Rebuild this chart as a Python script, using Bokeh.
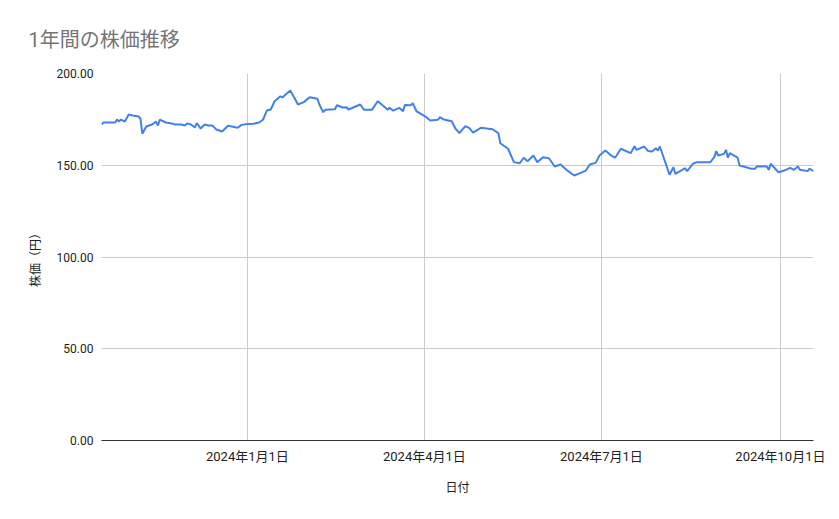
import pandas as pd
from bokeh.plotting import figure
from bokeh.models import Range1d, FixedTicker, PrintfTickFormatter, ColumnDataSource
from bokeh.embed import file_html
from bokeh.resources import INLINE

# ---- data ----
dates = [
    "2023-10-18", "2023-10-19", "2023-10-23", "2023-10-25", "2023-10-26", "2023-10-27",
    "2023-10-28", "2023-10-30", "2023-11-01", "2023-11-03", "2023-11-06", "2023-11-07",
    "2023-11-08", "2023-11-10", "2023-11-13", "2023-11-15", "2023-11-16", "2023-11-17",
    "2023-11-20", "2023-11-23", "2023-11-25", "2023-11-28", "2023-11-30", "2023-12-01",
    "2023-12-03", "2023-12-05", "2023-12-06", "2023-12-08", "2023-12-10", "2023-12-12",
    "2023-12-14", "2023-12-16", "2023-12-19", "2023-12-22", "2023-12-24", "2023-12-27",
    "2023-12-29", "2024-01-01", "2024-01-04", "2024-01-07", "2024-01-09", "2024-01-11",
    "2024-01-13", "2024-01-15", "2024-01-18", "2024-01-19", "2024-01-23", "2024-01-25",
    "2024-01-27", "2024-01-30", "2024-02-02", "2024-02-06", "2024-02-07", "2024-02-09",
    "2024-02-10", "2024-02-15", "2024-02-16", "2024-02-19", "2024-02-21", "2024-02-22",
    "2024-02-28", "2024-03-01", "2024-03-05", "2024-03-08", "2024-03-12", "2024-03-13",
    "2024-03-14", "2024-03-16", "2024-03-19", "2024-03-21", "2024-03-22", "2024-03-25",
    "2024-03-26", "2024-03-28", "2024-04-02", "2024-04-04", "2024-04-08", "2024-04-09",
    "2024-04-11", "2024-04-15", "2024-04-17", "2024-04-19", "2024-04-22", "2024-04-24",
    "2024-04-26", "2024-04-30", "2024-05-06", "2024-05-09", "2024-05-10", "2024-05-14",
    "2024-05-17", "2024-05-20", "2024-05-22", "2024-05-24", "2024-05-27", "2024-05-29",
    "2024-06-01", "2024-06-04", "2024-06-07", "2024-06-10", "2024-06-13", "2024-06-17",
    "2024-06-20", "2024-06-23", "2024-06-25", "2024-06-28", "2024-06-30", "2024-07-03",
    "2024-07-06", "2024-07-08", "2024-07-11", "2024-07-16", "2024-07-18", "2024-07-19",
    "2024-07-23", "2024-07-25", "2024-07-27", "2024-07-29", "2024-07-30", "2024-07-31",
    "2024-08-05", "2024-08-07", "2024-08-08", "2024-08-13", "2024-08-14", "2024-08-17",
    "2024-08-19", "2024-08-26", "2024-08-28", "2024-08-29", "2024-08-30", "2024-09-02",
    "2024-09-03", "2024-09-04", "2024-09-05", "2024-09-09", "2024-09-10", "2024-09-12",
    "2024-09-16", "2024-09-18", "2024-09-19", "2024-09-24", "2024-09-25", "2024-09-26",
    "2024-09-30", "2024-10-03", "2024-10-06", "2024-10-08", "2024-10-10", "2024-10-11",
    "2024-10-15", "2024-10-16", "2024-10-18",
]
prices = [
    172.2, 173.3, 173.3, 173.3, 174.9, 173.8,
    174.9, 173.8, 177.7, 177.1, 176.6, 175.5,
    167.2, 171.1, 172.2, 173.8, 171.7, 174.9,
    173.3, 172.8, 172.2, 172.2, 171.7, 172.8,
    172.2, 170.6, 173.0, 170.0, 172.2, 171.7,
    171.7, 169.5, 168.4, 171.5, 171.1, 170.4,
    172.0, 172.5, 172.6, 173.3, 174.8, 179.8,
    180.4, 184.9, 187.6, 186.9, 190.7, 187.1,
    183.1, 184.4, 187.1, 186.2, 183.1, 178.9,
    180.2, 180.5, 182.7, 181.5, 181.6, 180.4,
    183.1, 180.2, 180.2, 184.9, 181.3, 180.2,
    181.3, 179.8, 181.3, 179.5, 182.9, 182.7,
    183.8, 179.3, 176.2, 174.4, 174.8, 176.2,
    174.9, 174.0, 169.9, 167.5, 171.3, 170.4,
    167.8, 170.4, 169.6, 167.5, 162.0, 159.0,
    151.7, 151.1, 154.1, 152.2, 155.3, 151.7,
    154.4, 153.8, 149.3, 150.4, 147.5, 144.4,
    145.7, 147.1, 150.4, 151.3, 155.3, 158.0,
    155.3, 154.1, 159.0, 156.6, 160.4, 158.4,
    160.2, 157.7, 157.5, 159.3, 158.0, 160.2,
    144.8, 148.9, 145.3, 148.4, 146.8, 150.8,
    151.7, 151.7, 154.4, 157.7, 155.3, 156.2,
    158.4, 154.1, 156.6, 154.1, 149.9, 149.3,
    148.1, 148.1, 149.5, 149.3, 147.5, 150.8,
    146.2, 147.1, 148.6, 147.5, 149.3, 147.5,
    146.8, 148.1, 146.8,
]
x_tick_dates = ["2024-01-01", "2024-04-01", "2024-07-01", "2024-10-01"]
x_tick_labels = ["2024年1月1日", "2024年4月1日", "2024年7月1日", "2024年10月1日"]
y_ticks = [0, 50, 100, 150, 200]

title_text = "1年間の株価推移"
x_title = "日付"
y_title = "株価（円）"

FONT = "Roboto, 'Noto Sans CJK JP'"

dt = pd.to_datetime(dates)
source = ColumnDataSource(dict(x=dt, y=prices))

p = figure(
    width=831, height=511,
    x_axis_type="datetime",
    x_range=Range1d(start=dt[0], end=dt[-1]),
    y_range=Range1d(start=y_ticks[0], end=y_ticks[-1]),
    output_backend="svg", toolbar_location=None,
    min_border_left=101, min_border_right=18, min_border_top=73, min_border_bottom=71,
)
p.outline_line_color = None
p.background_fill_color = "white"
p.border_fill_color = "white"

p.title.text = title_text
p.title.text_font = FONT
p.title.text_font_size = "20px"
p.title.text_font_style = "normal"
p.title.text_color = "#757575"
p.title.align = "left"
p.title.offset = -73
p.title.vertical_align = "top"
p.title.standoff = 40

p.line("x", "y", source=source, line_color="#4282e8", line_width=2)

tick_ms = [pd.Timestamp(d).value / 1e6 for d in x_tick_dates]
p.xaxis.ticker = FixedTicker(ticks=tick_ms)
p.xaxis.major_label_overrides = {t: lab for t, lab in zip(tick_ms, x_tick_labels)}
p.yaxis.ticker = FixedTicker(ticks=y_ticks)
p.yaxis.formatter = PrintfTickFormatter(format="%.2f")

for ax in (p.xaxis[0], p.yaxis[0]):
    ax.major_tick_line_color = None
    ax.minor_tick_line_color = None
    ax.major_label_text_font = FONT
    ax.major_label_text_font_size = "12px"
    ax.major_label_text_color = "#222222"
    ax.axis_label_text_font = FONT
    ax.axis_label_text_font_size = "12px"
    ax.axis_label_text_font_style = "normal"
    ax.axis_label_text_color = "#222222"

p.xaxis.major_label_text_font_size = "13px"
p.xaxis.axis_label = x_title
p.yaxis.axis_label = y_title
p.xaxis.axis_line_color = "#333333"
p.xaxis.axis_line_width = 1
p.yaxis.axis_line_color = None
p.xaxis.major_label_standoff = 2
p.xaxis.axis_label_standoff = 14
p.yaxis.major_label_standoff = 2
p.yaxis.axis_label_standoff = 11

p.xgrid.grid_line_color = "#cccccc"
p.ygrid.grid_line_color = "#cccccc"

open("out.html", "w").write(file_html(p, INLINE))
